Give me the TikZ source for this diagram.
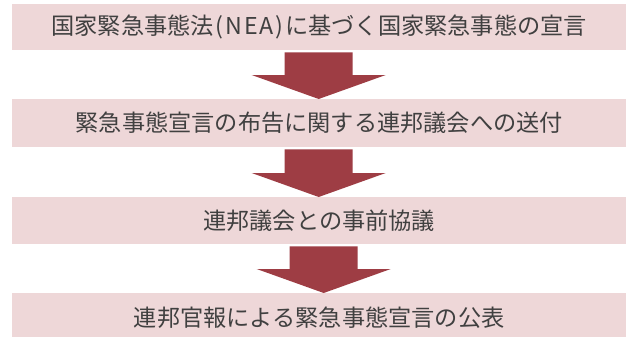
\documentclass[tikz,border=0pt]{standalone}
\usepackage{fontspec}
\setmainfont{Noto Sans CJK JP}
\definecolor{boxfill}{RGB}{238,215,216}
\definecolor{arrowfill}{RGB}{158,61,68}
\definecolor{txt}{RGB}{64,64,64}
\begin{document}
\begin{tikzpicture}[x=1pt,y=-1pt,
  stage/.style={fill=boxfill, draw=none, minimum width=614pt, minimum height=47pt,
    text=txt, font=\fontsize{23.2}{27}\selectfont, inner sep=0pt, anchor=north west},
  blockarrow/.style={fill=arrowfill, draw=none}]
\useasboundingbox (0,0) rectangle (626,337);
\fill[white] (0,0) rectangle (626,337);
\node[stage, minimum height=46pt] (b1) at (12,4) {国家緊急事態法\kern1.5pt(\kern2pt N\kern2pt E\kern2pt A\kern2pt)\kern1.5pt に基づく国家緊急事態の宣言};
\node[stage, minimum height=48pt] (b2) at (12,99) {緊急事態宣言の布告に関する連邦議会への送付};
\node[stage, minimum height=47pt] (b3) at (12,197) {連邦議会との事前協議};
\node[stage, minimum height=48pt] (b4) at (12,293) {連邦官報による緊急事態宣言の公表};
\foreach \a/\b/\o in {b1/b2/-0.5, b2/b3/-0.5, b3/b4/4.5} {
  \fill[blockarrow]
    ([xshift=\o pt-34pt, yshift=-2pt]\a.south) --
    ([xshift=\o pt+34pt, yshift=-2pt]\a.south) --
    ([xshift=\o pt+34pt, yshift=24pt]\b.north) --
    ([xshift=\o pt+67pt, yshift=24pt]\b.north) --
    ([xshift=\o pt]\b.north) --
    ([xshift=\o pt-67pt, yshift=24pt]\b.north) --
    ([xshift=\o pt-34pt, yshift=24pt]\b.north) -- cycle;
}
\end{tikzpicture}
\end{document}
